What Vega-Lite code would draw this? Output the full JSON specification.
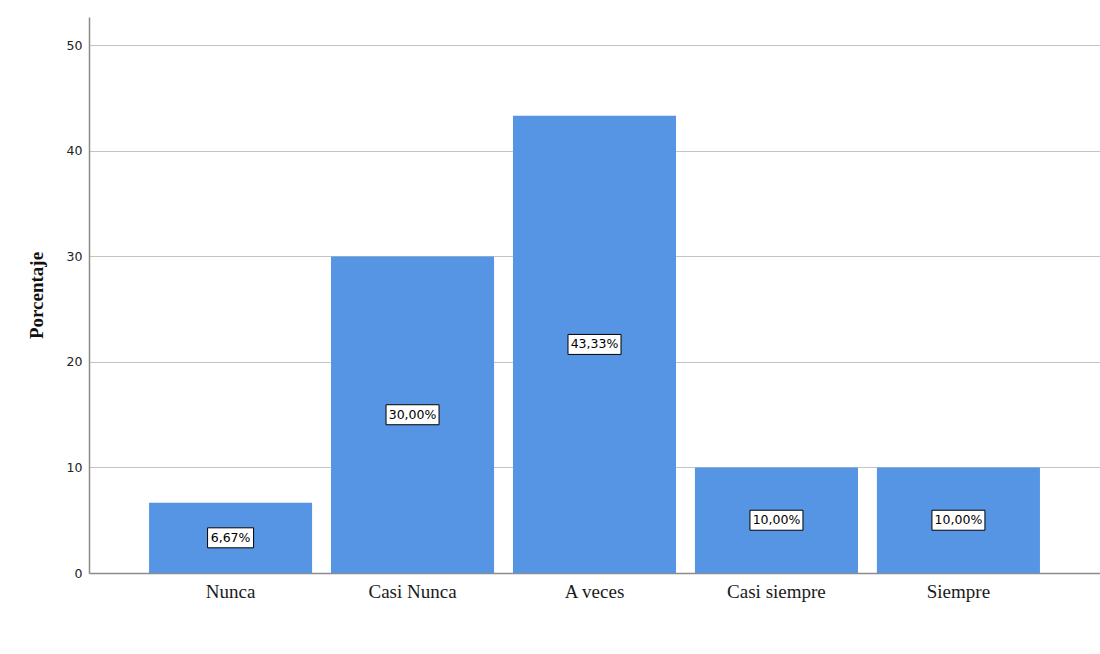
{
  "$schema": "https://vega.github.io/schema/vega-lite/v6.json",
  "autosize": "none",
  "width": 1011,
  "height": 556,
  "padding": {"left": 89, "top": 17, "right": 0, "bottom": 81},
  "background": "white",
  "config": {"view": {"stroke": null}},
  "data": {
    "values": [
      {"cat": "Nunca", "pct": 6.67},
      {"cat": "Casi Nunca", "pct": 30.0},
      {"cat": "A veces", "pct": 43.33},
      {"cat": "Casi siempre", "pct": 10.0},
      {"cat": "Siempre", "pct": 10.0}
    ]
  },
  "transform": [
    {"calculate": "datum.pct / 2", "as": "mid"},
    {"calculate": "replace(format(datum.pct, '.2f'), '.', ',') + '%'", "as": "lbl"}
  ],
  "encoding": {
    "x": {
      "field": "cat",
      "type": "nominal",
      "sort": null,
      "scale": {"paddingInner": 0.104, "paddingOuter": 0.33},
      "axis": {
        "title": null,
        "labelAngle": 0,
        "labelFont": "Liberation Serif",
        "labelFontSize": 19,
        "labelColor": "#1a1a1a",
        "labelPadding": 9,
        "ticks": false,
        "domainColor": "#8c8c8c",
        "domainWidth": 1.5
      }
    }
  },
  "layer": [
    {
      "mark": {"type": "bar", "color": "#5694e4"},
      "encoding": {
        "y": {
          "field": "pct",
          "type": "quantitative",
          "scale": {"domain": [0, 52.7], "nice": false},
          "axis": {
            "title": "Porcentaje",
            "titleFont": "Liberation Serif",
            "titleFontSize": 19,
            "titleFontWeight": "bold",
            "titleColor": "#111",
            "titlePadding": 20,
            "values": [0, 10, 20, 30, 40, 50],
            "labelFont": "DejaVu Sans",
            "labelFontSize": 12.5,
            "labelColor": "#222",
            "labelPadding": 7,
            "ticks": false,
            "domainColor": "#8c8c8c",
            "domainWidth": 1.5,
            "grid": true,
            "gridColor": "#c4c4c4",
            "gridWidth": 1.2
          }
        }
      }
    },
    {
      "mark": {"type": "rect", "fill": "white", "stroke": "black", "strokeWidth": 1, "height": 20, "width": {"expr": "datum.pct < 10 ? 46 : 53"}},
      "encoding": {
        "y": {"field": "mid", "type": "quantitative"}
      }
    },
    {
      "mark": {"type": "text", "font": "DejaVu Sans", "fontSize": 12.5, "color": "black"},
      "encoding": {
        "y": {"field": "mid", "type": "quantitative"},
        "text": {"field": "lbl"}
      }
    }
  ]
}
